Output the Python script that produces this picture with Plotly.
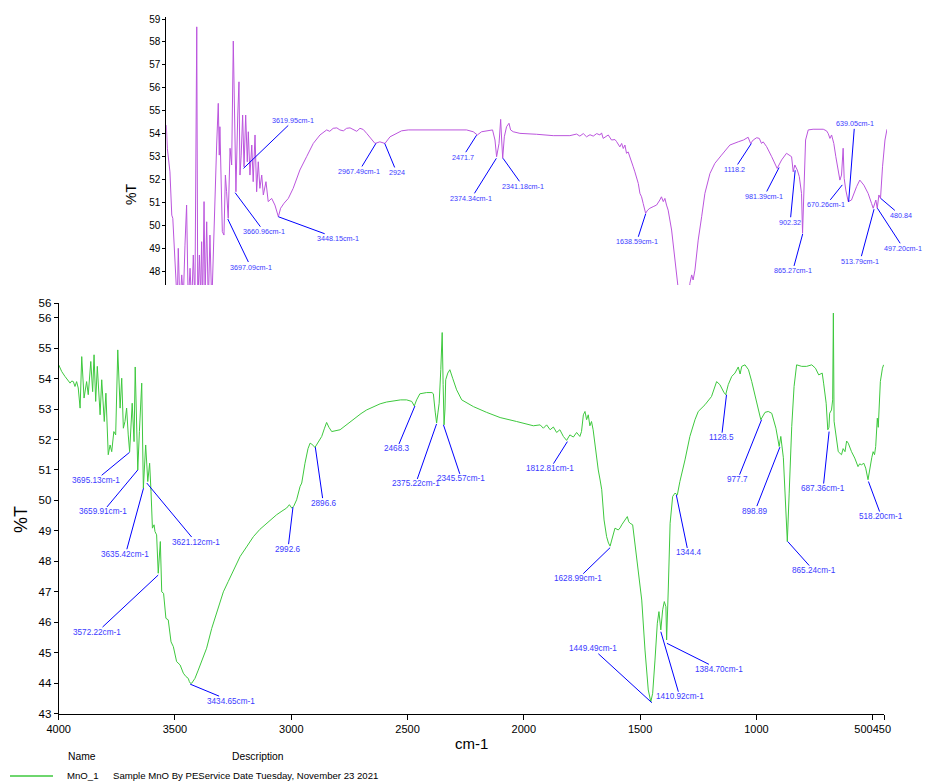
import plotly.graph_objects as go

# ---------------- data: top spectrum (magenta) ----------------
TOP_W = [4000, 3995, 3982, 3973, 3968, 3962, 3957, 3952, 3946, 3941, 3933, 3924, 3916, 3908, 3900,
         3892, 3883, 3875, 3867, 3859, 3850, 3845, 3837, 3831, 3826, 3821, 3814, 3809, 3801, 3793,
         3785, 3776, 3769, 3760, 3752, 3744, 3739, 3736, 3731, 3724, 3716, 3709, 3703, 3695, 3686,
         3678, 3670, 3662, 3657, 3648, 3642, 3637, 3631, 3624, 3617, 3609, 3601, 3596, 3588, 3579,
         3572, 3563, 3555, 3547, 3539, 3530, 3522, 3509, 3498, 3481, 3465, 3448, 3437, 3420, 3399,
         3375, 3350, 3342, 3309, 3276, 3243, 3210, 3195, 3178, 3160, 3145, 3128, 3112, 3095, 3079,
         3062, 3046, 3030, 3013, 2988, 2972, 2948, 2923, 2898, 2865, 2841, 2808, 2701, 2600, 2521,
         2488, 2468, 2447, 2393, 2381, 2373, 2361, 2353, 2348, 2343, 2335, 2324, 2312, 2304, 2291,
         2258, 2176, 2094, 2012, 1979, 1963, 1946, 1930, 1913, 1897, 1880, 1864, 1856, 1848, 1831,
         1823, 1807, 1790, 1782, 1766, 1757, 1749, 1741, 1733, 1725, 1716, 1708, 1700, 1692, 1684,
         1675, 1667, 1659, 1651, 1639, 1629, 1618, 1602, 1585, 1569, 1561, 1552, 1544, 1536, 1528,
         1511, 1495, 1483, 1470, 1450, 1435, 1421, 1412, 1405, 1396, 1380, 1363, 1347, 1322, 1298,
         1265, 1224, 1183, 1157, 1134, 1122, 1109, 1092, 1079, 1068, 1060, 1043, 1018, 1002, 991,
         969, 945, 920, 912, 904, 892, 882, 871, 866, 859, 851, 838, 814, 764, 748,
         740, 731, 723, 712, 702, 690, 682, 674, 666, 661, 653, 641, 625, 600, 584,
         564, 543, 526, 518, 505, 498, 490, 482, 472, 460, 450]
TOP_T = [54.37, 53.36, 52.33, 50.44, 50.30, 49.14, 48.41, 47.68, 46.50, 48.99, 46.50, 47.83, 46.80, 49.13, 50.88,
         46.50, 48.12, 46.50, 48.70, 46.60, 58.66, 46.50, 48.70, 46.90, 49.28, 46.50, 51.03, 46.90, 50.15, 46.50,
         49.57, 46.50, 48.70, 51.03, 53.50, 55.32, 53.06, 54.30, 51.75, 49.72, 49.57, 52.19, 51.46, 50.30, 53.36,
         52.63, 58.04, 53.64, 51.46, 54.81, 56.26, 52.19, 53.06, 54.81, 52.55, 54.81, 52.77, 54.08, 52.19, 53.50,
         51.90, 53.94, 51.46, 52.77, 51.61, 52.19, 51.32, 51.90, 51.03, 51.17, 50.88, 50.37, 50.74, 50.96, 51.17,
         51.61, 52.19, 52.41, 52.99, 53.57, 53.94, 54.16, 54.10, 54.23, 54.25, 54.16, 54.12, 54.23, 54.25, 54.16,
         54.10, 54.23, 54.18, 54.01, 53.72, 53.57, 53.64, 53.57, 53.86, 54.01, 54.12, 54.16, 54.16, 54.16, 54.16,
         54.08, 53.94, 54.08, 54.16, 53.72, 52.99, 53.57, 54.62, 53.72, 52.92, 53.86, 54.30, 54.45, 54.16, 54.08,
         54.01, 53.97, 53.91, 53.91, 53.98, 53.89, 54.00, 53.86, 53.95, 53.89, 54.00, 53.94, 54.03, 53.79, 53.89,
         53.94, 53.72, 53.74, 53.65, 53.42, 53.57, 53.35, 53.50, 53.14, 53.20, 52.99, 52.77, 52.55, 52.33, 52.11,
         51.82, 51.39, 51.24, 50.95, 50.52, 50.66, 50.74, 50.81, 50.88, 51.10, 51.24, 51.03, 51.17, 50.88, 50.66,
         49.79, 48.33, 47.30, 46.00, 45.00, 45.50, 47.46, 47.83, 47.61, 48.04, 49.35, 50.37, 51.39, 52.26, 52.70,
         53.06, 53.50, 53.64, 53.72, 53.84, 53.57, 53.72, 53.82, 53.79, 53.57, 53.64, 53.43, 52.99, 52.70, 52.48,
         52.85, 53.14, 52.99, 52.33, 52.63, 52.41, 52.12, 51.39, 49.65, 51.54, 53.72, 54.16, 54.19, 54.19, 54.12,
         54.01, 53.79, 53.94, 53.57, 52.99, 52.41, 51.97, 52.19, 53.36, 52.05, 51.54, 51.03, 51.10, 51.68, 51.97,
         51.75, 51.39, 50.95, 50.74, 51.10, 50.74, 51.32, 51.17, 52.55, 53.72, 54.19]

# ---------------- data: bottom spectrum MnO_1 (green) ----------------
BOT_W = [4000, 3987, 3973, 3960, 3951, 3944, 3937, 3930, 3923, 3916, 3908, 3901, 3891, 3880, 3873,
         3862, 3854, 3848, 3841, 3834, 3822, 3815, 3804, 3797, 3787, 3779, 3772, 3763, 3755, 3746,
         3736, 3729, 3722, 3715, 3708, 3701, 3695, 3684, 3676, 3671, 3660, 3653, 3643, 3636, 3626,
         3617, 3609, 3603, 3597, 3590, 3586, 3579, 3572, 3563, 3557, 3549, 3539, 3529, 3517, 3507,
         3493, 3478, 3464, 3453, 3443, 3438, 3434, 3428, 3414, 3400, 3385, 3364, 3342, 3314, 3292,
         3271, 3242, 3220, 3190, 3163, 3135, 3106, 3085, 3063, 3040, 3020, 3008, 2998, 2990, 2977,
         2962, 2955, 2941, 2928, 2919, 2912, 2898, 2884, 2869, 2858, 2848, 2838, 2826, 2790, 2760,
         2733, 2700, 2676, 2640, 2618, 2590, 2561, 2530, 2504, 2490, 2482, 2471, 2461, 2447, 2418,
         2395, 2389, 2381, 2375, 2369, 2364, 2357, 2351, 2347, 2343, 2339, 2336, 2327, 2318, 2306,
         2289, 2267, 2217, 2160, 2102, 2031, 1990, 1959, 1930, 1916, 1902, 1887, 1873, 1859, 1845,
         1830, 1816, 1802, 1787, 1773, 1759, 1752, 1744, 1737, 1730, 1723, 1716, 1709, 1702, 1694,
         1680, 1672, 1665, 1655, 1644, 1636, 1629, 1622, 1608, 1594, 1586, 1579, 1565, 1555, 1549,
         1543, 1532, 1522, 1508, 1493, 1479, 1465, 1454, 1446, 1436, 1426, 1419, 1411, 1403, 1396,
         1389, 1386, 1379, 1371, 1360, 1350, 1340, 1329, 1307, 1286, 1264, 1250, 1221, 1193, 1171,
         1157, 1140, 1132, 1121, 1106, 1092, 1078, 1070, 1063, 1049, 1034, 1020, 999, 981, 963,
         949, 934, 916, 902, 895, 884, 874, 867, 859, 848, 838, 827, 805, 784, 762,
         746, 732, 717, 711, 700, 693, 688, 685, 677, 672, 669, 666, 662, 648, 634,
         627, 619, 612, 605, 598, 591, 577, 563, 556, 548, 538, 530, 520, 514, 510,
         504, 498, 492, 487, 480, 476, 473, 467, 458, 453]
BOT_T = [54.45, 54.23, 54.07, 53.95, 53.85, 53.92, 53.90, 53.74, 53.90, 53.69, 53.03, 54.72, 53.36, 53.90, 53.47,
         54.56, 53.57, 54.78, 53.25, 54.40, 52.81, 53.96, 52.59, 53.52, 51.50, 51.82, 51.60, 52.26, 52.15, 54.94,
         53.03, 54.01, 52.37, 52.59, 53.03, 52.15, 51.60, 53.19, 51.93, 54.38, 51.00, 52.26, 53.85, 50.40, 51.82,
         50.62, 51.22, 50.29, 49.09, 49.20, 48.98, 48.87, 47.61, 48.65, 47.00, 46.95, 46.13, 46.08, 45.36, 45.20,
         44.71, 44.60, 44.33, 44.22, 44.16, 44.05, 44.00, 44.00, 44.16, 44.43, 44.71, 45.15, 45.80, 46.46, 47.00,
         47.34, 47.83, 48.16, 48.50, 48.81, 49.05, 49.25, 49.40, 49.53, 49.65, 49.75, 49.86, 49.75, 49.80, 50.02,
         50.46, 50.57, 51.22, 51.70, 51.88, 51.85, 51.74, 51.93, 52.10, 52.35, 52.56, 52.40, 52.26, 52.32, 52.50,
         52.65, 52.85, 52.97, 53.10, 53.17, 53.23, 53.27, 53.30, 53.30, 53.28, 53.25, 53.10, 53.30, 53.50, 53.54,
         53.54, 53.50, 52.90, 52.54, 52.90, 53.19, 54.30, 55.51, 53.80, 52.48, 53.00, 53.96, 54.18, 54.29, 54.01,
         53.63, 53.30, 53.08, 52.89, 52.72, 52.59, 52.52, 52.45, 52.48, 52.37, 52.48, 52.32, 52.41, 52.23, 52.32,
         52.10, 51.97, 52.15, 52.08, 52.23, 52.10, 52.26, 52.81, 52.92, 52.65, 52.81, 52.45, 52.59, 52.32, 51.77,
         51.00, 50.67, 50.35, 49.36, 48.81, 48.60, 48.50, 48.70, 49.09, 49.03, 49.10, 49.20, 49.36, 49.47, 49.30,
         49.25, 49.20, 48.59, 47.83, 46.73, 45.09, 43.78, 43.39, 43.67, 44.76, 45.97, 46.35, 45.75, 46.41, 46.68,
         46.51, 45.42, 47.06, 49.25, 50.13, 50.24, 50.18, 50.62, 51.33, 52.10, 52.65, 52.92, 53.14, 53.41, 53.90,
         53.80, 53.55, 53.47, 53.80, 54.07, 54.18, 54.38, 54.15, 54.40, 54.45, 54.29, 53.90, 53.20, 52.65, 52.89,
         52.92, 52.86, 52.37, 51.77, 52.10, 51.40, 50.02, 48.65, 50.24, 52.43, 53.74, 54.45, 54.40, 54.40, 54.45,
         54.34, 54.12, 54.18, 53.85, 53.19, 52.32, 52.40, 52.86, 52.97, 53.30, 56.15, 52.60, 52.37, 51.60, 51.50,
         51.70, 51.60, 51.95, 51.88, 51.70, 51.60, 51.39, 51.11, 51.20, 51.17, 51.22, 51.06, 50.68, 51.00, 51.17,
         51.40, 51.60, 51.50, 51.77, 52.70, 52.40, 53.14, 53.90, 54.34, 54.45]

# ---------------- peak labels ----------------
TOP_PEAK_TEXT = ["3619.95cm-1", "3660.96cm-1", "3697.09cm-1", "3448.15cm-1", "2967.49cm-1", "2924",
                 "2471.7", "2374.34cm-1", "2341.18cm-1", "1638.59cm-1", "1118.2", "981.39cm-1",
                 "902.32", "865.27cm-1", "639.05cm-1", "670.26cm-1", "513.79cm-1", "497.20cm-1", "480.84"]
TOP_PEAK_W = [3619.95, 3660.96, 3697.09, 3448.15, 2967.49, 2924, 2471.7, 2374.34, 2341.18, 1638.59,
              1118.2, 981.39, 902.32, 865.27, 639.05, 670.26, 513.79, 497.20, 480.84]
TOP_PEAK_T = [52.48, 51.42, 50.27, 50.37, 53.57, 53.57, 53.93, 52.92, 52.92, 50.50,
              53.57, 52.52, 52.40, 49.62, 51.02, 51.76, 50.70, 50.74, 51.17]
TOP_LABEL_DX = [50, 29, 23, 60, -17, 12, -14, -25, 20, -9, -17, -15, -5, -10, 6, -16, -14, 26, 20]
TOP_LABEL_DY = [-48, 39, 48, 22, 28, 29, 22, 40, 28, 28, 26, 29, 52, 37, -78, 20, 52, 40, 17]

BOT_PEAK_TEXT = ["3695.13cm-1", "3659.91cm-1", "3635.42cm-1", "3621.12cm-1", "3572.22cm-1", "3434.65cm-1",
                 "2992.6", "2896.6", "2468.3", "2375.22cm-1", "2345.57cm-1", "1812.81cm-1", "1628.99cm-1",
                 "1449.49cm-1", "1410.92cm-1", "1384.70cm-1", "1344.4", "1128.5", "977.7", "898.89",
                 "865.24cm-1", "687.36cm-1", "518.20cm-1"]
BOT_PEAK_W = [3695.13, 3659.91, 3635.42, 3621.12, 3572.22, 3434.65, 2992.6, 2896.6, 2468.3, 2375.22,
              2345.57, 1812.81, 1628.99, 1449.49, 1410.92, 1384.70, 1344.4, 1128.5, 977.7, 898.89,
              865.24, 687.36, 518.20]
BOT_PEAK_T = [51.58, 51.00, 50.40, 50.57, 47.55, 43.97, 49.78, 51.75, 53.10, 52.51,
              52.48, 51.93, 48.45, 43.36, 45.69, 45.31, 50.18, 53.47, 52.65, 51.75,
              48.65, 52.26, 50.62]
BOT_LABEL_DX = [-34, -35, -18, 49, -61, 41, -5, 8, -18, -21, 18, -17, -32, -59, 19, 52, 12, -5, -24, -25, 26, -6, 13]
BOT_LABEL_DY = [28, 42, 66, 59, 57, 17, 42, 56, 43, 60, 54, 27, 31, -54, 65, 26, 58, 43, 60, 64, 29, 57, 35]

X_TICKS = [4000, 3500, 3000, 2500, 2000, 1500, 1000, 500, 450]
X_TICK_TEXT = ["4000", "3500", "3000", "2500", "2000", "1500", "1000", "500450", ""]
BOT_Y_TICKS = [43, 44, 45, 46, 47, 48, 49, 50, 51, 52, 53, 54, 55, 56, 56.47]
BOT_Y_TEXT = ["43", "44", "45", "46", "47", "48", "49", "50", "51", "52", "53", "54", "55", "56", "56"]
TOP_Y_TICKS = [48, 49, 50, 51, 52, 53, 54, 55, 56, 57, 58, 59]

W, H = 926, 783
SANS = "Liberation Sans, Arial, sans-serif"
TOP_COLOR = "#bb55dd"
BOT_COLOR = "#3ec83e"
LABEL_BLUE = "#3a3aff"
LINE_BLUE = "#0000ff"

fig = go.Figure()
fig.add_trace(go.Scatter(x=BOT_W, y=BOT_T, mode="lines", line=dict(color=BOT_COLOR, width=1),
                         xaxis="x", yaxis="y", showlegend=False, name="MnO_1"))
fig.add_trace(go.Scatter(x=TOP_W, y=TOP_T, mode="lines", line=dict(color=TOP_COLOR, width=1),
                         xaxis="x2", yaxis="y2", showlegend=False))

annotations = []
for t, w, v, dx, dy in zip(TOP_PEAK_TEXT, TOP_PEAK_W, TOP_PEAK_T, TOP_LABEL_DX, TOP_LABEL_DY):
    annotations.append(dict(x=w, y=v, xref="x2", yref="y2", text=t, showarrow=True, arrowhead=0,
                            arrowwidth=1, arrowcolor=LINE_BLUE, ax=dx, ay=dy, standoff=0,
                            borderpad=0, font=dict(family=SANS, size=7.2, color=LABEL_BLUE)))
for t, w, v, dx, dy in zip(BOT_PEAK_TEXT, BOT_PEAK_W, BOT_PEAK_T, BOT_LABEL_DX, BOT_LABEL_DY):
    annotations.append(dict(x=w, y=v, xref="x", yref="y", text=t, showarrow=True, arrowhead=0,
                            arrowwidth=1, arrowcolor=LINE_BLUE, ax=dx, ay=dy, standoff=0,
                            borderpad=0, font=dict(family=SANS, size=8.2, color=LABEL_BLUE)))

def P(px, py):
    return px / W, 1 - py / H

# axis titles and legend texts
for txt, px, py, size, ang in [("%T", 21, 520, 18, -90), ("%T", 131, 195, 14, -90),
                               ("cm-1", 471, 743, 15, 0)]:
    x, y = P(px, py)
    annotations.append(dict(x=x, y=y, xref="paper", yref="paper", text=txt, showarrow=False,
                            xanchor="center", yanchor="middle", textangle=ang,
                            font=dict(family=SANS, size=size, color="black")))
for txt, px, py in [("Name", 82, 756), ("Description", 258, 756)]:
    x, y = P(px, py)
    annotations.append(dict(x=x, y=y, xref="paper", yref="paper", text=txt, showarrow=False,
                            xanchor="center", yanchor="middle",
                            font=dict(family=SANS, size=10.3, color="black")))
for txt, px in [("MnO_1", 65), ("Sample MnO By PEService Date Tuesday, November 23 2021", 111)]:
    x, y = P(px, 775)
    annotations.append(dict(x=x, y=y, xref="paper", yref="paper", text=txt, showarrow=False,
                            xanchor="left", yanchor="middle",
                            font=dict(family=SANS, size=9.6, color="black")))

lx0, ly = P(10, 776)
lx1, _ = P(53, 776)
shapes = [dict(type="line", xref="paper", yref="paper", x0=lx0, x1=lx1, y0=ly, y1=ly,
               line=dict(color=BOT_COLOR, width=1.5))]

bx0, by0 = P(58.7, 713.7)
bx1, by1 = P(884.3, 303.3)
tx0, ty0 = P(166.3, 285)
tx1, ty1 = P(887.0, 17)

fig.update_layout(
    width=W, height=H, margin=dict(l=0, r=0, t=0, b=0, pad=0, autoexpand=False),
    paper_bgcolor="white", plot_bgcolor="white",
    xaxis=dict(domain=[bx0, bx1], range=[4000, 450], anchor="y", showgrid=False, zeroline=False,
               showline=True, linecolor="black", linewidth=1, ticks="outside", ticklen=5,
               tickcolor="black", tickvals=X_TICKS, ticktext=X_TICK_TEXT, automargin=False,
               tickfont=dict(family=SANS, size=11, color="black")),
    yaxis=dict(domain=[by0, by1], range=[43, 56.47], anchor="x", showgrid=False, zeroline=False,
               showline=True, linecolor="black", linewidth=1, ticks="outside", ticklen=4,
               tickcolor="black", tickvals=BOT_Y_TICKS, ticktext=BOT_Y_TEXT, automargin=False,
               tickfont=dict(family=SANS, size=11.5, color="black")),
    xaxis2=dict(domain=[tx0, tx1], range=[4000, 450], anchor="y2", showgrid=False, zeroline=False,
                showline=False, showticklabels=False, ticks="", automargin=False),
    yaxis2=dict(domain=[ty0, ty1], range=[47.39, 59.09], anchor="x2", showgrid=False, zeroline=False,
                showline=True, linecolor="black", linewidth=1, ticks="outside", ticklen=3,
                tickcolor="black", tickvals=TOP_Y_TICKS, automargin=False,
                tickfont=dict(family=SANS, size=10, color="black")),
    annotations=annotations, shapes=shapes,
)

fig.write_html("out.html")
